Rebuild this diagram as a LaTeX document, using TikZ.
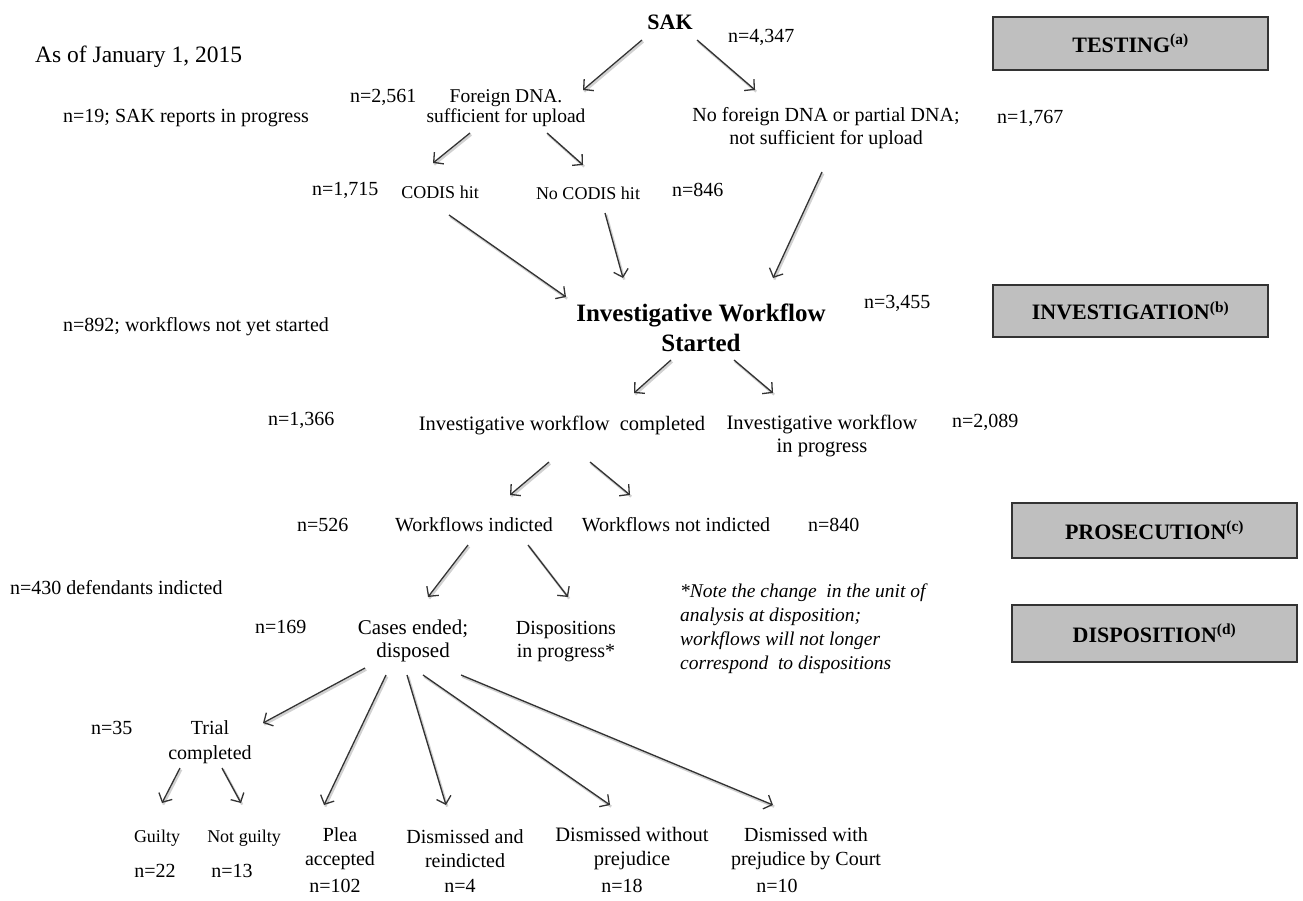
\documentclass[tikz,border=0pt]{standalone}
\usepackage{fontspec}
\setmainfont{Liberation Serif}
\usetikzlibrary{arrows.meta,calc}
\begin{document}
\begin{tikzpicture}[x=1pt,y=-1pt,
  t/.style={inner sep=0pt, align=center, font=\fontsize{20}{23}\selectfont},
  ts/.style={t, font=\fontsize{18}{21}\selectfont},
  nl/.style={t, anchor=west},
  hdbox/.style={draw=black!80, fill=gray!50, line width=1.5pt, inner sep=0pt,
    minimum width=275pt, minimum height=53pt, font=\bfseries\fontsize{22}{26}\selectfont},
  hdboxw/.style={hdbox, minimum width=285pt, minimum height=55pt},
  arr/.style={draw=black!80, line width=1.3pt,
    -{Straight Barb[length=7pt,width=15pt,line width=1.3pt]},
    preaction={draw=black!18, line width=2.4pt, -, transform canvas={shift={(1.2pt,-1.6pt)}}}}
]
\useasboundingbox (0,0) rectangle (1303,900);

% ---------- TESTING ----------
\node[nl, font=\fontsize{23.5}{27}\selectfont] (asof) at (35,57) {As of January 1, 2015};
\node[t, font=\bfseries\fontsize{22}{26}\selectfont] (sak) at (670,22) {SAK};
\node[nl] (n4347) at (728,37) {n=4,347};
\node[nl] (n2561) at (350,97) {n=2,561};
\node[t, font=\fontsize{19.5}{20}\selectfont] (foreign) at (506,108) {Foreign DNA.\\sufficient for upload};
\node[nl] (n19) at (63,118) {n=19; SAK reports in progress};
\node[t] (noforeign) at (826,128) {No foreign DNA or partial DNA;\\not sufficient for upload};
\node[nl] (n1767) at (997,118) {n=1,767};
\node[hdbox] (testing) at (1130.5,43.5) {TESTING\textsuperscript{(a)}};

\node[nl] (n1715) at (312,190) {n=1,715};
\node[ts] (codis) at (440,192) {CODIS hit};
\node[ts] (nocodis) at (588,193) {No CODIS hit};
\node[nl] (n846) at (672,190) {n=846};

% ---------- INVESTIGATION ----------
\node[t, font=\bfseries\fontsize{25}{30}\selectfont] (iws) at (701,328) {Investigative Workflow\\Started};
\node[nl] (n3455) at (864,303) {n=3,455};
\node[hdbox, minimum height=52pt] (investigation) at (1130.5,311) {INVESTIGATION\textsuperscript{(b)}};
\node[nl] (n892) at (63,327) {n=892; workflows not yet started};

\node[nl] (n1366) at (268,420) {n=1,366};
\node[t, font=\fontsize{20.5}{23}\selectfont] (completed) at (562,425) {Investigative workflow~ completed};
\node[t, font=\fontsize{20.5}{23}\selectfont] (inprog) at (822,436) {Investigative workflow\\in progress};
\node[nl] (n2089) at (952,422) {n=2,089};

% ---------- PROSECUTION ----------
\node[nl] (n526) at (297,525) {n=526};
\node[t] (indicted) at (474,525) {Workflows indicted};
\node[t] (notindicted) at (676,525) {Workflows not indicted};
\node[nl] (n840) at (808,525) {n=840};
\node[hdboxw] (prosecution) at (1154.5,530.5) {PROSECUTION\textsuperscript{(c)}};

% ---------- DISPOSITION ----------
\node[nl] (n430) at (10,588) {n=430 defendants indicted};
\node[t, anchor=west, align=left, font=\itshape\fontsize{19.5}{24}\selectfont] (note) at (680,629)
  {*Note the change~ in the unit of\\analysis at disposition;\\workflows will not longer\\correspond~ to dispositions};
\node[hdboxw, minimum height=57pt] (disposition) at (1154.5,633.5) {DISPOSITION\textsuperscript{(d)}};

\node[nl] (n169) at (255,627) {n=169};
\node[t, font=\fontsize{21}{23}\selectfont] (cases) at (413,641) {Cases ended;\\disposed};
\node[t] (dispositions) at (566,642) {Dispositions\\in progress*};

\node[nl] (n35) at (91,728) {n=35};
\node[t, font=\fontsize{20}{25}\selectfont] (trial) at (210,742) {Trial\\completed};

\node[ts] (guilty) at (157,838) {Guilty};
\node[ts] (notguilty) at (244,838) {Not guilty};
\node[t] (n22) at (155,871) {n=22};
\node[t] (n13) at (232,871) {n=13};
\node[t, font=\fontsize{20}{24}\selectfont] (plea) at (340,849) {Plea\\accepted};
\node[t] (n102) at (335,886) {n=102};
\node[t, font=\fontsize{20}{24}\selectfont] (dismreind) at (465,849) {Dismissed and\\reindicted};
\node[t] (n4) at (460,886) {n=4};
\node[t, font=\fontsize{20.5}{24}\selectfont] (dismwo) at (632,849) {Dismissed without\\prejudice};
\node[t] (n18) at (622,886) {n=18};
\node[t, font=\fontsize{20}{24}\selectfont] (dismwith) at (806,849) {Dismissed with\\prejudice by Court};
\node[t] (n10) at (777,886) {n=10};

% ---------- connectors ----------
\draw[arr] ($(sak)+(-28,18)$) -- ($(foreign)+(77,-18)$);
\draw[arr] ($(sak)+(27,18)$) -- ($(noforeign)+(-71,-38)$);
\draw[arr] ($(foreign)+(-36,25)$) -- ($(codis)+(-7,-29)$);
\draw[arr] ($(foreign)+(41,25)$) -- ($(nocodis)+(-5,-28)$);
\draw[arr] ($(codis)+(9,23)$) -- ($(iws)+(-135,-31)$);
\draw[arr] ($(nocodis)+(17,20)$) -- ($(iws)+(-78,-50)$);
\draw[arr] ($(noforeign)+(-4,44)$) -- ($(iws)+(72,-50)$);
\draw[arr] ($(iws)+(-30,32)$) -- ($(completed)+(72,-32)$);
\draw[arr] ($(iws)+(33,32)$) -- ($(inprog)+(-49,-43)$);
\draw[arr] ($(completed)+(-13,37)$) -- ($(indicted)+(36,-30)$);
\draw[arr] ($(completed)+(28,37)$) -- ($(notindicted)+(-46,-30)$);
\draw[arr] ($(indicted)+(-6,20)$) -- ($(cases)+(15,-44)$);
\draw[arr] ($(indicted)+(54,20)$) -- ($(dispositions)+(2,-45)$);
\draw[arr] ($(cases)+(-48,27)$) -- ($(trial)+(53,-19)$);
\draw[arr] ($(cases)+(-27,34)$) -- ($(plea)+(-16,-44)$);
\draw[arr] ($(cases)+(-6,34)$) -- ($(dismreind)+(-19,-44)$);
\draw[arr] ($(cases)+(10,34)$) -- ($(dismwo)+(-22,-44)$);
\draw[arr] ($(cases)+(48,34)$) -- ($(dismwith)+(-33,-44)$);
\draw[arr] ($(trial)+(-30,26)$) -- ($(guilty)+(5,-35)$);
\draw[arr] ($(trial)+(12,26)$) -- ($(notguilty)+(-3,-35)$);
\end{tikzpicture}
\end{document}
